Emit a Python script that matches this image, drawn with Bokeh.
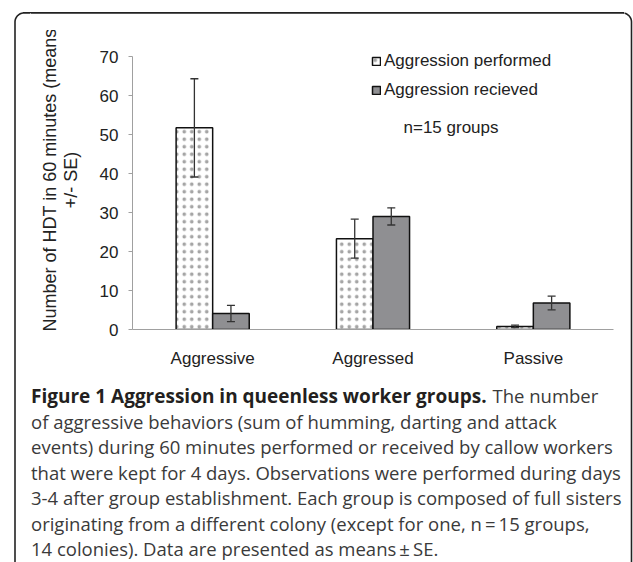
import numpy as np
from bokeh.plotting import figure
from bokeh.layouts import column, row
from bokeh.models import (ColumnDataSource, FactorRange, Range1d, Whisker, TeeHead,
                          Legend, LegendItem, Label, FixedTicker, InlineStyleSheet, Spacer)
from bokeh.core.properties import value
from bokeh.transform import dodge
from bokeh.embed import file_html
from bokeh.resources import INLINE

# ---- data ----
categories = ["Aggressive", "Aggressed", "Passive"]
performed_mean = [51.7, 23.3, 0.8]
performed_se = [12.6, 5.0, 0.3]
received_mean = [4.1, 29.0, 6.8]
received_se = [2.1, 2.2, 1.75]
y_ticks = [0, 10, 20, 30, 40, 50, 60, 70]
series_labels = ["Aggression performed", "Aggression recieved"]
y_title = "Number of HDT in 60 minutes (means\n+/- SE)"
note_text = "n=15 groups"
caption_bold = "Figure 1 Aggression in queenless worker groups."
caption_first_rest = "The number"
caption_lines = [
    "of aggressive behaviors (sum of humming, darting and attack",
    "events) during 60 minutes performed or received by callow workers",
    "that were kept for 4 days. Observations were performed during days",
    "3-4 after group establishment. Each group is composed of full sisters",
    "originating from a different colony (except for one, n\u2009=\u200915 groups,",
    "14 colonies). Data are presented as means\u2009\u00b1\u2009SE.",
]

# ---- page geometry (pixels) ----
W, H = 633, 562
TOP_H = 30          # top strip  : y 0..30
MID_Y1 = 372        # chart      : y 30..372
LEFT_W, RIGHT_X = 30, 624
FL, FR, FT, FB = 132, 613, 56, 329   # chart frame: x axis span, y of 70 and of 0
YMAX = 70.0
Y_END = YMAX * (FB - TOP_H) / (FB - FT)

EDGE = "#222"


def border_xy():
    # rounded box outline (open at the bottom), densely sampled
    r = 9.0
    xl, xr, yt, yb = 14.5, 631.0, 12.5, 570.0
    n = 200
    t1 = np.linspace(np.pi, 1.5 * np.pi, 14)
    t2 = np.linspace(1.5 * np.pi, 2.0 * np.pi, 14)
    xs = np.concatenate([np.full(n, xl), xl + r + r * np.cos(t1),
                         np.linspace(xl + r, xr - r, n),
                         xr - r + r * np.cos(t2), np.full(n, xr)])
    ys = np.concatenate([np.linspace(yb, yt + r, n), yt + r + r * np.sin(t1),
                         np.full(n, yt), yt + r + r * np.sin(t2),
                         np.linspace(yt + r, yb, n)])
    return xs, ys


def strip(x0, x1, y0, y1, fill_alpha=1.0):
    f = figure(width=x1 - x0, height=y1 - y0,
               x_range=Range1d(x0, x1), y_range=Range1d(y1, y0),
               min_border=0, x_axis_location=None, y_axis_location=None,
               toolbar_location=None, output_backend="svg", frame_align=False,
               outline_line_color=None, background_fill_color="white",
               border_fill_color="white", background_fill_alpha=fill_alpha,
               border_fill_alpha=fill_alpha)
    f.grid.visible = False
    bx, by = border_xy()
    f.line(bx, by, line_color=EDGE, line_width=1.6)
    return f


# ---- chart ----
src = ColumnDataSource(dict(
    cat=categories,
    pm=performed_mean,
    rm=received_mean,
    p_lo=np.array(performed_mean) - np.array(performed_se),
    p_hi=np.array(performed_mean) + np.array(performed_se),
    r_lo=np.array(received_mean) - np.array(received_se),
    r_hi=np.array(received_mean) + np.array(received_se),
))

p = figure(width=RIGHT_X - LEFT_W, height=MID_Y1 - TOP_H,
           x_range=FactorRange(*categories, range_padding=0),
           y_range=Range1d(0, Y_END),
           min_border_left=FL - LEFT_W, min_border_right=RIGHT_X - FR,
           min_border_top=0, min_border_bottom=MID_Y1 - FB,
           output_backend="svg", toolbar_location=None, frame_align=False,
           outline_line_color=None, background_fill_color="white",
           border_fill_color="white")

off = 0.114
bw = 0.228
r1 = p.vbar(x=dodge("cat", -off, range=p.x_range), top="pm", width=bw, source=src,
            fill_color="white", line_color="#111", line_width=1.5,
            hatch_pattern="dot", hatch_color="#a5a5a5", hatch_scale=7.5, hatch_weight=0.8)
r2 = p.vbar(x=dodge("cat", off, range=p.x_range), top="rm", width=bw, source=src,
            fill_color="#8f8f92", line_color="#111", line_width=1.5)

for base, lo, hi in [(dodge("cat", -off, range=p.x_range), "p_lo", "p_hi"),
                     (dodge("cat", off, range=p.x_range), "r_lo", "r_hi")]:
    w = Whisker(source=src, base=base, lower=lo, upper=hi, level="overlay",
                line_color="#333", line_width=1.3,
                upper_head=TeeHead(size=8, line_color="#333", line_width=1.3),
                lower_head=TeeHead(size=8, line_color="#333", line_width=1.3))
    p.add_layout(w)

p.xgrid.visible = False
p.ygrid.visible = False
ya = p.yaxis[0]
ya.ticker = FixedTicker(ticks=y_ticks)
ya.bounds = (0, YMAX)
ya.axis_line_color = "#a0a0a0"
ya.major_tick_line_color = "#a0a0a0"
ya.major_tick_out = 4
ya.major_tick_in = 0
ya.minor_tick_line_color = None
ya.major_label_standoff = 10
ya.major_label_text_font = "Liberation Sans"
ya.major_label_text_font_size = "17px"
ya.major_label_text_color = "#222"
ya.axis_label = y_title
ya.axis_label_text_font = "Liberation Sans"
ya.axis_label_text_font_size = "18px"
ya.axis_label_text_font_style = "normal"
ya.axis_label_text_color = "#222"
ya.axis_label_text_line_height = 1.05
ya.axis_label_standoff = 16

xa = p.xaxis[0]
xa.axis_line_color = "#a0a0a0"
xa.major_tick_line_color = None
xa.minor_tick_line_color = None
xa.major_label_standoff = 13
xa.major_label_text_font = "Liberation Sans"
xa.major_label_text_font_size = "17px"
xa.major_label_text_color = "#222"

legend = Legend(items=[LegendItem(label=series_labels[0], renderers=[r1]),
                       LegendItem(label=series_labels[1], renderers=[r2])],
                location=(239, 228), padding=0, margin=0, spacing=7,
                glyph_width=10, glyph_height=10, label_height=22, label_standoff=3,
                label_text_font="Liberation Sans", label_text_font_size="17px",
                label_text_color="#222", border_line_color=None,
                background_fill_alpha=0)
p.add_layout(legend)

note_x = (403 - FL) / (FR - FL) * len(categories)
note_y = (FB - 127) / (FB - FT) * YMAX
p.add_layout(Label(x=note_x, y=note_y, text=note_text, text_baseline="middle",
                   text_font="Liberation Sans", text_font_size="17px", text_color="#222"))

# ---- frame strips and caption ----
left = strip(0, LEFT_W, 0, H)
right = strip(RIGHT_X, W, 0, H)
top = strip(LEFT_W, RIGHT_X, 0, TOP_H, fill_alpha=0.0)
cap = strip(LEFT_W, RIGHT_X, MID_Y1, H)

# straight top edge of the box, also painted as the top strip's own background
top.styles = {"background": "linear-gradient(to bottom, transparent 11.7px, #222 11.7px, "
                            "#222 13.3px, transparent 13.3px)"}
left.stylesheets = [InlineStyleSheet(css=(
    ":host { overflow: visible; }"
    ":host::after { content: ''; position: absolute; left: 23px; top: 11.7px;"
    " width: 600px; height: 0; border-top: 1.6px solid #222; z-index: 20;"
    " pointer-events: none; }"))]

cap_y = [395, 420.5, 446, 471.5, 497, 522.5, 548]
cap_x = 30.5
cap.text(x=[cap_x], y=[cap_y[0]], text=[caption_bold], text_baseline="middle",
         text_font=value("Open Sans"), text_font_size=value("19px"),
         text_font_style="bold", text_color="#231f20")
cap.text(x=[492], y=[cap_y[0]], text=[caption_first_rest], text_baseline="middle",
         text_font=value("Open Sans"), text_font_size=value("18.5px"), text_color="#3a3a3a")
cap.text(x=[cap_x] * len(caption_lines), y=cap_y[1:], text=caption_lines,
         text_baseline="middle", text_font=value("Open Sans"),
         text_font_size=value("18.5px"), text_color="#3a3a3a")

layout = row(left, column(Spacer(width=RIGHT_X - LEFT_W, height=0), top, p, cap), right)

open("out.html", "w").write(file_html(layout, INLINE))
